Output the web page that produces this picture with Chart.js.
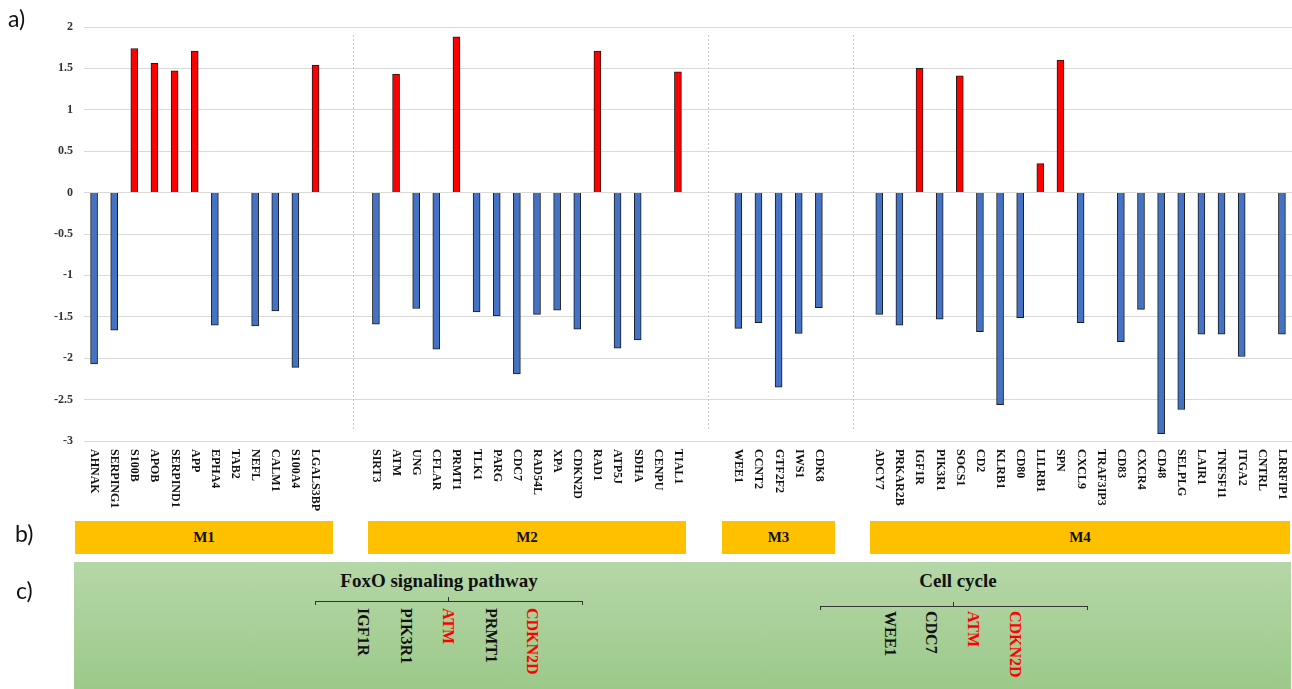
<!DOCTYPE html>
<html>
<head>
<meta charset="utf-8">
<script src="https://cdn.jsdelivr.net/npm/chart.js@4.4.1/dist/chart.umd.min.js"></script>
<style>
body { margin: 0; background: #fff; }
#page { position: relative; width: 1292px; height: 689px; overflow: hidden; font-family: "Liberation Serif", serif; }
#chartBox { position: absolute; left: 0; top: 0; width: 1292px; height: 520px; }
.panel { position: absolute; font-family: Lato, "Open Sans", sans-serif; font-size: 23px; color: #111; }
.mod { position: absolute; top: 521px; height: 33px; background: #ffc000; font-weight: bold; font-size: 15px;
  display: flex; align-items: center; justify-content: center; color: #111; }
#green { position: absolute; left: 74px; top: 562px; width: 1217px; height: 127px;
  background: linear-gradient(#b5d7a7, #9cc98a); }
.ptitle { position: absolute; top: 570px; font-weight: bold; font-size: 19px; color: #111; transform: translateX(-50%); white-space: nowrap; }
.brace { position: absolute; height: 3px; border: 1px solid #333; border-bottom: none; }
.tick { position: absolute; width: 1px; height: 5px; background: #333; }
.pg { position: absolute; writing-mode: vertical-rl; font-weight: bold; font-size: 16px; line-height: 16px; width: 16px; color: #111; }
.pg.up { color: #ff0000; }
</style>
</head>
<body>
<div id="page">
  <div id="chartBox"><canvas id="chart"></canvas></div>
  <div class="panel" style="left:8px;top:4px;">a)</div>
  <div class="panel" style="left:15px;top:519px;">b)</div>
  <div class="panel" style="left:16px;top:576px;">c)</div>

  <div class="mod" style="left:75px;width:258px;">M1</div>
  <div class="mod" style="left:368px;width:318px;">M2</div>
  <div class="mod" style="left:722px;width:113px;">M3</div>
  <div class="mod" style="left:870px;width:420px;">M4</div>

  <div id="green"></div>
  <div class="ptitle" style="left:439px;">FoxO signaling pathway</div>
  <div class="brace" style="left:315px;top:601px;width:266px;"></div>
  <div class="tick" style="left:448px;top:597px;"></div>
  <div class="pg" style="left:355px;top:608px;">IGF1R</div>
  <div class="pg" style="left:398px;top:608px;">PIK3R1</div>
  <div class="pg up" style="left:440px;top:608px;">ATM</div>
  <div class="pg" style="left:483px;top:608px;">PRMT1</div>
  <div class="pg up" style="left:524px;top:608px;">CDKN2D</div>

  <div class="ptitle" style="left:958px;">Cell cycle</div>
  <div class="brace" style="left:820px;top:606px;width:266px;"></div>
  <div class="tick" style="left:953px;top:602px;"></div>
  <div class="pg" style="left:882px;top:611px;">WEE1</div>
  <div class="pg" style="left:923px;top:611px;">CDC7</div>
  <div class="pg up" style="left:965px;top:611px;">ATM</div>
  <div class="pg up" style="left:1007px;top:611px;">CDKN2D</div>
</div>
<script>
// fold changes per module (null = no bar)
var m1Genes = ['AHNAK','SERPING1','S100B','APOB','SERPIND1','APP','EPHA4','TAB2','NEFL','CALM1','S100A4','LGALS3BP'];
var m1Values = [-2.07,-1.66,1.74,1.56,1.47,1.71,-1.60,null,-1.61,-1.43,-2.11,1.54];
var m2Genes = ['SIRT3','ATM','UNG','CFLAR','PRMT1','TLK1','PARG','CDC7','RAD54L','XPA','CDKN2D','RAD1','ATP5J','SDHA','CENPU','TIAL1'];
var m2Values = [-1.59,1.43,-1.40,-1.89,1.88,-1.44,-1.49,-2.19,-1.47,-1.42,-1.65,1.71,-1.88,-1.78,null,1.46];
var m3Genes = ['WEE1','CCNT2','GTF2F2','IWS1','CDK8'];
var m3Values = [-1.64,-1.57,-2.35,-1.70,-1.39];
var m4Genes = ['ADCY7','PRKAR2B','IGF1R','PIK3R1','SOCS1','CD2','KLRB1','CD80','LILRB1','SPN','CXCL9','TRAF3IP3','CD83','CXCR4','CD48','SELPLG','LAIR1','TNFSF11','ITGA2','CNTRL','LRRFIP1'];
var m4Values = [-1.47,-1.60,1.50,-1.53,1.41,-1.68,-2.56,-1.51,0.35,1.60,-1.57,null,-1.80,-1.41,-2.91,-2.62,-1.71,-1.71,-1.98,null,-1.71];
var gapSlots = 2;
var separatorSlots = [12.87, 30.5, 37.7];

var labels = [];
var values = [];
[[m1Genes, m1Values], [m2Genes, m2Values], [m3Genes, m3Values], [m4Genes, m4Values]].forEach(function(m, k){
    if(k > 0){
        for(var g = 0; g < gapSlots; g++){
            labels.push('');
            values.push(null);
        }
    }
    for(var i = 0; i < m[0].length; i++){
        labels.push(m[0][i]);
        values.push(m[1][i]);
    }
});

var colors = [];
for(var i = 0; i < values.length; i++){
    colors.push(values[i] > 0 ? '#ff0000' : '#4472c4');
}

var extras = {
    id: 'extras',
    beforeDatasetsDraw: function(chart){
        var ctx = chart.ctx, xs = chart.scales.x;
        ctx.save();
        ctx.strokeStyle = '#c3cfbd';
        ctx.lineWidth = 1;
        ctx.setLineDash([2, 2]);
        separatorSlots.forEach(function(s){
            var x = Math.round(xs.getPixelForValue(s)) + 0.5;
            ctx.beginPath();
            ctx.moveTo(x, 35);
            ctx.lineTo(x, 431);
            ctx.stroke();
        });
        ctx.restore();
    },
    afterDraw: function(chart){
        var ctx = chart.ctx, xs = chart.scales.x, area = chart.chartArea;
        ctx.save();
        ctx.font = 'bold 12px "Liberation Serif"';
        ctx.fillStyle = '#111';
        ctx.textAlign = 'left';
        ctx.textBaseline = 'middle';
        for(var i = 0; i < labels.length; i++){
            if(labels[i] == '') continue;
            ctx.save();
            ctx.translate(xs.getPixelForValue(i), area.bottom + 8);
            ctx.rotate(Math.PI / 2);
            ctx.fillText(labels[i], 0, 0);
            ctx.restore();
        }
        ctx.restore();
    }
};

var ctx = document.getElementById('chart').getContext('2d');
var myChart = new Chart(ctx, {
    type: 'bar',
    data: {
        labels: labels,
        datasets: [{
            data: values,
            backgroundColor: colors,
            borderColor: '#1a1a1a',
            borderWidth: 1,
            barThickness: 7
        }]
    },
    options: {
        responsive: true,
        maintainAspectRatio: false,
        animation: false,
        layout: { padding: { top: 27, bottom: 79, left: 0, right: 0 } },
        plugins: { legend: { display: false }, tooltip: { enabled: false } },
        scales: {
            x: { display: false },
            y: {
                min: -3,
                max: 2,
                ticks: {
                    stepSize: 0.5,
                    padding: 11,
                    color: '#333',
                    font: { family: 'Liberation Serif', weight: 'bold', size: 12 },
                    callback: function(v){ return String(Math.round(v * 10) / 10); }
                },
                grid: { color: '#d9d9d9', drawTicks: false },
                border: { display: false },
                afterFit: function(s){ s.width = 84; }
            }
        }
    },
    plugins: [extras]
});
</script>
</body>
</html>
